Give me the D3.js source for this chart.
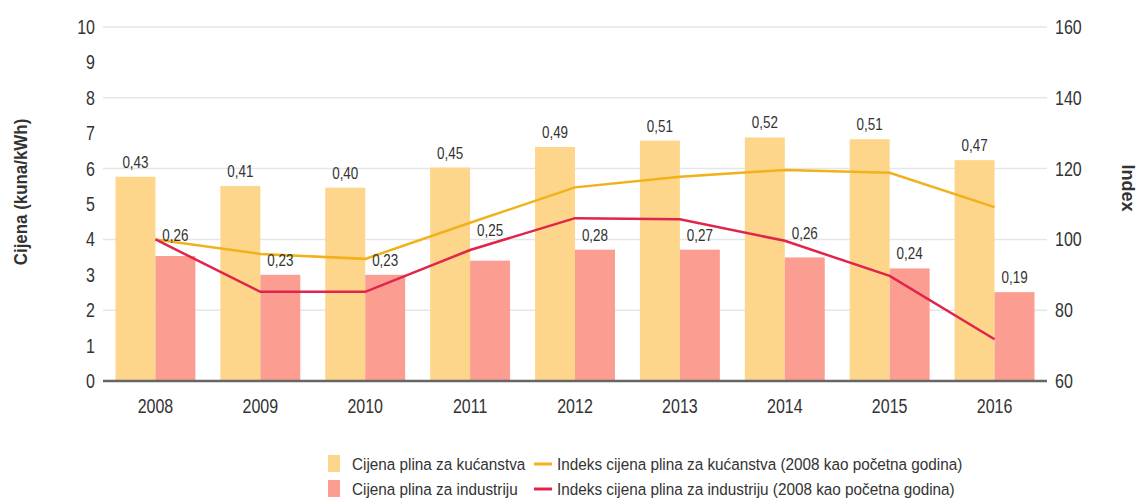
<!DOCTYPE html>
<html>
<head>
<meta charset="utf-8">
<script src="https://cdn.jsdelivr.net/npm/d3@7"></script>
<style>
  body { margin: 0; background: #fff; }
  svg text { font-family: "Liberation Sans", Arial, sans-serif; fill: #333; }
</style>
</head>
<body>
<svg width="1137" height="504"></svg>
<script>
// data
const years = ["2008", "2009", "2010", "2011", "2012", "2013", "2014", "2015", "2016"];
const householdBar = [5.77, 5.51, 5.46, 6.03, 6.61, 6.79, 6.88, 6.83, 6.24];
const industryBar = [3.53, 3.00, 3.00, 3.40, 3.71, 3.71, 3.49, 3.18, 2.51];
const householdLabel = ["0,43", "0,41", "0,40", "0,45", "0,49", "0,51", "0,52", "0,51", "0,47"];
const industryLabel = ["0,26", "0,23", "0,23", "0,25", "0,28", "0,27", "0,26", "0,24", "0,19"];
const householdIndex = [100, 95.9, 94.5, 104.7, 114.7, 117.7, 119.6, 118.8, 109.1];
const industryIndex = [100, 85.2, 85.2, 97.0, 106.0, 105.7, 99.6, 89.7, 71.8];
const leftTicks = [0, 1, 2, 3, 4, 5, 6, 7, 8, 9, 10];
const rightTicks = [60, 80, 100, 120, 140, 160];

const colHouseBar = "#fdd68b", colIndBar = "#fc9d92";
const colHouseLine = "#f2b019", colIndLine = "#e0244b";

var svg = d3.select("svg");
var plotL = 103, plotR = 1047, plotT = 27, plotB = 381;

var x = d3.scaleBand().domain(years).range([plotL, plotR]);
var sub = d3.scaleBand().domain(["h", "i"]).range([0, x.bandwidth()]).paddingOuter(0.3125);
var yL = d3.scaleLinear().domain([0, 10]).range([plotB, plotT]);
var yR = d3.scaleLinear().domain([60, 160]).range([plotB, plotT]);

// narrow look: squeeze text horizontally
function tr(px, py, sx) { return "translate(" + px + "," + py + ") scale(" + sx + ",1)"; }

// grid
svg.append("g")
  .selectAll("line")
  .data(leftTicks.filter(d => d % 2 == 0 && d > 0))
  .enter().append("line")
  .attr("x1", plotL).attr("x2", plotR)
  .attr("y1", d => yL(d)).attr("y2", d => yL(d))
  .style("stroke", "#e6e6e6").style("stroke-width", 1.5);

// bars
var g = svg.append("g");
g.selectAll(".hb").data(years).enter().append("rect")
  .attr("x", d => x(d) + sub("h"))
  .attr("width", sub.bandwidth())
  .attr("y", (d, i) => yL(householdBar[i]))
  .attr("height", (d, i) => plotB - yL(householdBar[i]))
  .style("fill", colHouseBar);
g.selectAll(".ib").data(years).enter().append("rect")
  .attr("x", d => x(d) + sub("i"))
  .attr("width", sub.bandwidth())
  .attr("y", (d, i) => yL(industryBar[i]))
  .attr("height", (d, i) => plotB - yL(industryBar[i]))
  .style("fill", colIndBar);

// lines
var line = d3.line().x(d => x(d[0]) + x.bandwidth() / 2).y(d => yR(d[1]));
svg.append("path")
  .datum(years.map((d, i) => [d, householdIndex[i]]))
  .attr("d", line)
  .style("fill", "none").style("stroke", colHouseLine).style("stroke-width", 2.5);
svg.append("path")
  .datum(years.map((d, i) => [d, industryIndex[i]]))
  .attr("d", line)
  .style("fill", "none").style("stroke", colIndLine).style("stroke-width", 2.5);

// y of a line at pixel position px
function lineAt(values, px) {
  var xs = years.map(d => x(d) + x.bandwidth() / 2);
  for (var k = 0; k < xs.length - 1; k++) {
    if (px >= xs[k] && px <= xs[k + 1]) {
      var t = (px - xs[k]) / (xs[k + 1] - xs[k]);
      return yR(values[k] + t * (values[k + 1] - values[k]));
    }
  }
  return null;
}

// value labels, lifted above the line when it crosses the bar top
function labels(barVals, texts, key, idx) {
  svg.append("g").selectAll("text").data(years).enter().append("text")
    .attr("transform", (d, i) => {
      var cx = x(d) + sub(key) + sub.bandwidth() / 2;
      var bt = yL(barVals[i]);
      var ly = bt - 9;
      var l = lineAt(idx, cx);
      if (l != null && l > ly - 14 && l < bt + 2) ly = l - 8;
      return tr(cx, ly, 0.84);
    })
    .attr("text-anchor", "middle")
    .style("font-size", "16px")
    .text((d, i) => texts[i]);
}
labels(householdBar, householdLabel, "h", householdIndex);
labels(industryBar, industryLabel, "i", industryIndex);

// base axis line
svg.append("line")
  .attr("x1", plotL).attr("x2", plotR)
  .attr("y1", plotB).attr("y2", plotB)
  .style("stroke", "#666").style("stroke-width", 2.5);

// x tick labels
svg.append("g").selectAll("text").data(years).enter().append("text")
  .attr("transform", d => tr(x(d) + x.bandwidth() / 2, plotB + 32, 0.8))
  .attr("text-anchor", "middle")
  .style("font-size", "20px")
  .text(d => d);

// left ticks
svg.append("g").selectAll("text").data(leftTicks).enter().append("text")
  .attr("transform", d => tr(95, yL(d) + 7, 0.8))
  .attr("text-anchor", "end")
  .style("font-size", "20px")
  .text(d => d);

// right ticks
svg.append("g").selectAll("text").data(rightTicks).enter().append("text")
  .attr("transform", d => tr(1055, yR(d) + 7, 0.8))
  .style("font-size", "20px")
  .text(d => d);

// axis titles
svg.append("text")
  .attr("text-anchor", "middle")
  .attr("transform", "translate(27,192) rotate(-90) scale(0.94,1)")
  .style("font-size", "18px").style("font-weight", "bold")
  .text("Cijena (kuna/kWh)");
svg.append("text")
  .attr("text-anchor", "middle")
  .attr("transform", "translate(1122,188) rotate(90)")
  .style("font-size", "18px").style("font-weight", "bold")
  .text("Index");

// legend
var legend = [
  { type: "rect", color: colHouseBar, label: "Cijena plina za kućanstva", x: 328, y: 464 },
  { type: "rect", color: colIndBar, label: "Cijena plina za industriju", x: 328, y: 489 },
  { type: "line", color: colHouseLine, label: "Indeks cijena plina za kućanstva (2008 kao početna godina)", x: 534, y: 464 },
  { type: "line", color: colIndLine, label: "Indeks cijena plina za industriju (2008 kao početna godina)", x: 534, y: 489 }
];
var lg = svg.append("g").selectAll("g").data(legend).enter().append("g");
lg.filter(d => d.type == "rect").append("rect")
  .attr("x", d => d.x).attr("y", d => d.y - 9)
  .attr("width", 12).attr("height", 17)
  .style("fill", d => d.color);
lg.filter(d => d.type == "line").append("line")
  .attr("x1", d => d.x).attr("x2", d => d.x + 18)
  .attr("y1", d => d.y).attr("y2", d => d.y)
  .style("stroke", d => d.color).style("stroke-width", 3);
lg.append("text")
  .attr("transform", d => tr(d.type == "rect" ? d.x + 24 : d.x + 23, d.y + 6, 0.9))
  .style("font-size", "17px")
  .text(d => d.label);
</script>
</body>
</html>
